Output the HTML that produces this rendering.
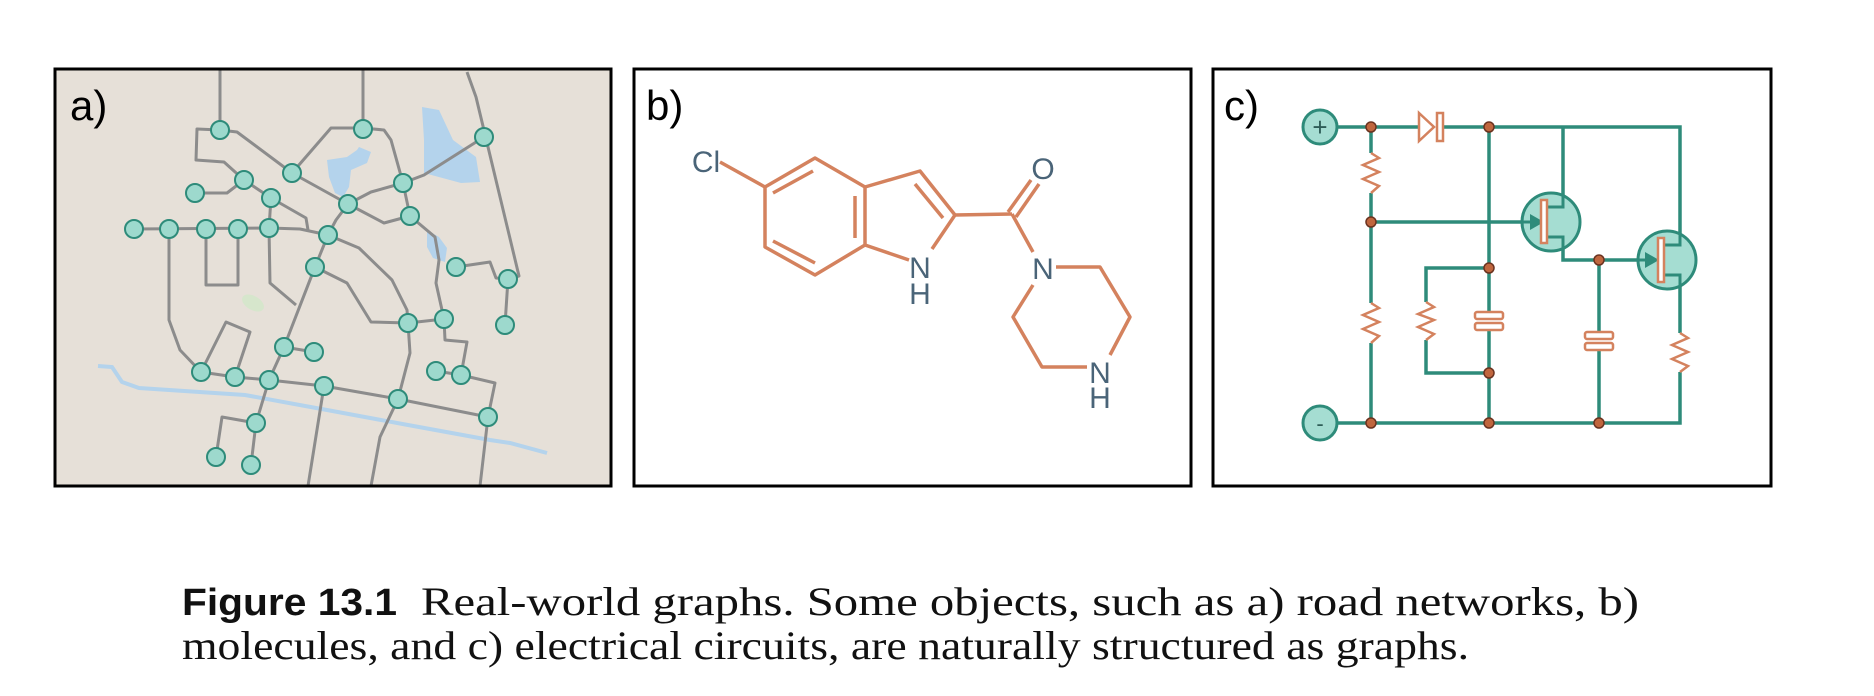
<!DOCTYPE html>
<html><head><meta charset="utf-8"><style>html,body{margin:0;padding:0;background:#fff}svg{display:block}</style></head>
<body>
<svg width="1874" height="696" viewBox="0 0 1874 696" xmlns="http://www.w3.org/2000/svg">
<!-- Panel a -->
<rect x="55" y="69" width="556" height="417" fill="#e6e0d8"/>
<g fill="#b4d3ec">
<polygon points="422,107 439,110 453,140 476,157 480,182 461,183 424,173 424,140"/>
<polygon points="327,160 347,157 357,150 359,147 371,152 367,163 351,170 349,187 343,197 335,193 329,177"/>
<polygon points="427,230 439,237 447,248 445,262 433,258 427,247"/>
</g>
<ellipse cx="253" cy="303" rx="12" ry="7" fill="#d6e6cc" transform="rotate(30 253 303)"/>
<polyline points="98,366 112,367 122,382 139,388 245,395 327,410 408,425 490,440 510,443 547,453" fill="none" stroke="#b4d3ec" stroke-width="4"/>
<g fill="none" stroke="#8c8c8c" stroke-width="3" stroke-linejoin="round">
<polyline points="220,68 220,130"/>
<polyline points="363,70 363,129"/>
<polyline points="467,72 476,97 519,276 508,279"/>
<polyline points="220,130 197,129 196,160 224,162 244,180"/>
<polyline points="220,130 237,132 292,173 348,204"/>
<polyline points="292,173 331,128 363,128 384,130 391,140 403,183"/>
<polyline points="484,137 424,175 403,183 371,192 348,204"/>
<polyline points="403,183 410,216"/>
<polyline points="348,204 384,223 410,216 435,237 439,260 436,283 444,319"/>
<polyline points="195,193 227,193 244,180 271,198 306,218 308,230"/>
<polyline points="271,198 269,228"/>
<polyline points="134,229 269,228 300,229 328,235"/>
<polyline points="169,229 169,320 180,350 201,372"/>
<polyline points="206,229 206,285 238,285 238,229"/>
<polyline points="269,228 270,283 296,305"/>
<polyline points="348,204 336,220 328,235 315,267 284,347 269,380"/>
<polyline points="328,235 359,248 392,280 407,310 408,323"/>
<polyline points="315,267 347,283 371,322 408,323 444,319"/>
<polyline points="408,323 410,353 398,399 380,437 371,486"/>
<polyline points="444,319 445,340 467,342 461,375"/>
<polyline points="436,371 461,375 495,383 488,417 480,486"/>
<polyline points="456,267 490,262 496,278 508,279 505,325"/>
<polyline points="284,347 314,352"/>
<polyline points="201,372 235,377 269,380 324,386 398,399 488,417"/>
<polyline points="201,372 226,322 250,332 235,377"/>
<polyline points="269,380 256,423 222,417 216,457"/>
<polyline points="256,423 251,465"/>
<polyline points="324,386 308,486"/>
</g>
<g fill="#9dd9cd" stroke="#2e8b7a" stroke-width="2">
<ellipse cx="220" cy="130" rx="9" ry="9"/><ellipse cx="363" cy="129" rx="9" ry="9"/><ellipse cx="484" cy="137" rx="9" ry="9"/>
<ellipse cx="292" cy="173" rx="9" ry="9"/><ellipse cx="244" cy="180" rx="9" ry="9"/><ellipse cx="195" cy="193" rx="9" ry="9"/>
<ellipse cx="403" cy="183" rx="9" ry="9"/><ellipse cx="271" cy="198" rx="9" ry="9"/><ellipse cx="348" cy="204" rx="9" ry="9"/>
<ellipse cx="410" cy="216" rx="9" ry="9"/><ellipse cx="134" cy="229" rx="9" ry="9"/><ellipse cx="169" cy="229" rx="9" ry="9"/>
<ellipse cx="206" cy="229" rx="9" ry="9"/><ellipse cx="238" cy="229" rx="9" ry="9"/><ellipse cx="269" cy="228" rx="9" ry="9"/>
<ellipse cx="328" cy="235" rx="9" ry="9"/><ellipse cx="315" cy="267" rx="9" ry="9"/><ellipse cx="456" cy="267" rx="9" ry="9"/>
<ellipse cx="508" cy="279" rx="9" ry="9"/><ellipse cx="408" cy="323" rx="9" ry="9"/><ellipse cx="444" cy="319" rx="9" ry="9"/>
<ellipse cx="505" cy="325" rx="9" ry="9"/><ellipse cx="284" cy="347" rx="9" ry="9"/><ellipse cx="314" cy="352" rx="9" ry="9"/>
<ellipse cx="201" cy="372" rx="9" ry="9"/><ellipse cx="235" cy="377" rx="9" ry="9"/><ellipse cx="269" cy="380" rx="9" ry="9"/>
<ellipse cx="324" cy="386" rx="9" ry="9"/><ellipse cx="436" cy="371" rx="9" ry="9"/><ellipse cx="461" cy="375" rx="9" ry="9"/>
<ellipse cx="398" cy="399" rx="9" ry="9"/><ellipse cx="488" cy="417" rx="9" ry="9"/><ellipse cx="256" cy="423" rx="9" ry="9"/>
<ellipse cx="216" cy="457" rx="9" ry="9"/><ellipse cx="251" cy="465" rx="9" ry="9"/>
</g>
<rect x="55" y="69" width="556" height="417" fill="none" stroke="#000" stroke-width="3"/>
<text x="70" y="120" font-family="Liberation Sans, sans-serif" font-size="42">a)</text>

<!-- Panel b -->
<rect x="634" y="69" width="557" height="417" fill="#fff" stroke="#000" stroke-width="3"/>
<text x="646" y="120" font-family="Liberation Sans, sans-serif" font-size="42">b)</text>
<g fill="none" stroke="#d4825e" stroke-width="3.5" stroke-linejoin="round">
<polygon points="765,187 815,158 865,187 865,245 815,275 765,247"/>
<line x1="773" y1="193" x2="813" y2="171"/><line x1="773" y1="241" x2="815" y2="263"/><line x1="855" y1="196" x2="855" y2="238"/>
<line x1="720" y1="162" x2="765" y2="187"/>
<polyline points="865,187 920,171 955,215 932,249"/>
<line x1="915" y1="184" x2="943" y2="218"/>
<line x1="865" y1="245" x2="909" y2="260"/>
<line x1="955" y1="215" x2="1012" y2="214"/>
<line x1="1008" y1="212" x2="1031" y2="180"/><line x1="1016" y1="217" x2="1039" y2="184"/>
<line x1="1012" y1="214" x2="1033" y2="252"/>
<polyline points="1056,267 1100,267 1130,317 1110,355"/>
<polyline points="1087,367 1042,367 1013,317 1033,285"/>
</g>
<g fill="#4a6478" font-family="Liberation Sans, sans-serif" font-size="30" text-anchor="middle">
<text x="706" y="172">Cl</text>
<text x="920" y="278">N</text><text x="920" y="304">H</text>
<text x="1043" y="179">O</text>
<text x="1043" y="279">N</text>
<text x="1100" y="383">N</text><text x="1100" y="408">H</text>
</g>

<!-- Panel c -->
<rect x="1213" y="69" width="558" height="417" fill="#fff" stroke="#000" stroke-width="3"/>
<text x="1224" y="120" font-family="Liberation Sans, sans-serif" font-size="42">c)</text>
<g fill="none" stroke="#2e8b7a" stroke-width="3.5">
<polyline points="1337,127 1419,127"/><polyline points="1443,127 1680,127 1680,245 1670,245"/>
<polyline points="1563,127 1563,207 1550,207"/><polyline points="1550,237 1563,237 1563,260 1652,260"/>
<polyline points="1670,275 1680,275 1680,333"/><polyline points="1680,372 1680,423 1337,423"/>
<polyline points="1371,127 1371,153"/><polyline points="1371,193 1371,303"/><polyline points="1371,343 1371,423"/>
<polyline points="1371,222 1533,222"/>
<polyline points="1489,127 1489,312"/><polyline points="1489,330 1489,423"/>
<polyline points="1489,268 1426,268 1426,302"/><polyline points="1426,340 1426,373 1489,373"/>
<polyline points="1599,260 1599,332"/><polyline points="1599,348 1599,423"/>
</g>
<g fill="#a5ddd2" stroke="#2e8b7a" stroke-width="3">
<circle cx="1320" cy="127" r="17"/><circle cx="1320" cy="423" r="17"/>
<circle cx="1551" cy="222" r="29"/><circle cx="1667" cy="260" r="29"/>
</g>
<g stroke="#2e8b7a" stroke-width="3" fill="none">
<polyline points="1563,127 1563,207 1546,207"/><polyline points="1546,237 1563,237 1563,260"/>
<polyline points="1680,127 1680,245 1664,245"/><polyline points="1664,275 1680,275 1680,333"/>
<line x1="1522" y1="222" x2="1533" y2="222"/><line x1="1638" y1="260" x2="1648" y2="260"/>
</g>
<text x="1320" y="136" font-family="Liberation Sans, sans-serif" font-size="26" fill="#2e5d57" text-anchor="middle">+</text>
<text x="1320" y="431" font-family="Liberation Sans, sans-serif" font-size="22" fill="#2e5d57" text-anchor="middle">-</text>
<g fill="#2e8b7a"><polygon points="1530,214 1544,222 1530,230"/><polygon points="1645,252 1659,260 1645,268"/></g>
<g fill="#fff" stroke="#d4825e" stroke-width="2.5">
<rect x="1541" y="200" width="6" height="43"/><rect x="1658" y="238" width="6" height="44"/>
<polygon points="1419,113 1434,127 1419,141"/><rect x="1437" y="113" width="6" height="28"/>
<rect x="1475" y="312" width="28" height="7" rx="2"/><rect x="1475" y="323" width="28" height="7" rx="2"/>
<rect x="1585" y="332" width="28" height="7" rx="2"/><rect x="1585" y="343" width="28" height="7" rx="2"/>
</g>
<g fill="none" stroke="#d4825e" stroke-width="2.5">
<polyline points="1371,153 1379,158 1363,165 1379,172 1363,179 1379,186 1371,193"/>
<polyline points="1371,303 1379,308 1363,315 1379,322 1363,329 1379,336 1371,343"/>
<polyline points="1426,302 1434,307 1418,314 1434,320 1418,327 1434,334 1426,340"/>
<polyline points="1680,333 1688,338 1672,345 1688,352 1672,359 1688,366 1680,372"/>
</g>
<g fill="#c0663e" stroke="#6b3320" stroke-width="1.5">
<circle cx="1371" cy="127" r="5"/><circle cx="1489" cy="127" r="5"/><circle cx="1371" cy="222" r="5"/>
<circle cx="1599" cy="260" r="5"/><circle cx="1489" cy="268" r="5"/><circle cx="1489" cy="373" r="5"/>
<circle cx="1371" cy="423" r="5"/><circle cx="1489" cy="423" r="5"/><circle cx="1599" cy="423" r="5"/>
</g>

<!-- Caption -->
<text x="182" y="615" font-family="Liberation Sans, sans-serif" font-weight="bold" font-size="38" textLength="215" lengthAdjust="spacingAndGlyphs" fill="#111">Figure 13.1</text>
<text x="421" y="615" font-family="Liberation Serif, serif" font-size="40" textLength="1218" lengthAdjust="spacingAndGlyphs" fill="#111">Real-world graphs.  Some objects, such as a) road networks, b)</text>
<text x="182" y="659" font-family="Liberation Serif, serif" font-size="40" textLength="1287" lengthAdjust="spacingAndGlyphs" fill="#111">molecules, and c) electrical circuits, are naturally structured as graphs.</text>
</svg>
</body></html>
